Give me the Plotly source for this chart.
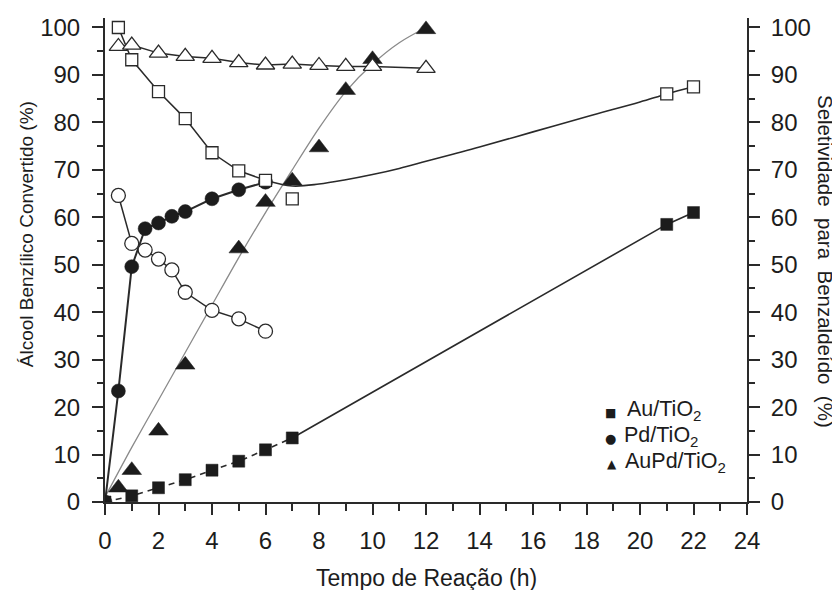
import plotly.graph_objects as go

# ---------------- data ----------------
# Conversion (left axis)
au_t = [0, 1, 2, 3, 4, 5, 6, 7]
au_conv = [0, 1.3, 3.0, 4.7, 6.7, 8.6, 11.0, 13.5]
au_t_long = [7, 21, 22]
au_conv_long = [13.5, 58.5, 61.0]

pd_t = [0, 0.5, 1, 1.5, 2, 2.5, 3, 4, 5, 6]
pd_conv = [0, 23.4, 49.6, 57.6, 58.8, 60.2, 61.2, 63.9, 65.8, 67.4]

aupd_t = [0.5, 1, 2, 3, 5, 6, 7, 8, 9, 10, 12]
aupd_conv = [3.0, 6.7, 15.0, 28.9, 53.4, 63.2, 67.7, 74.7, 86.8, 93.3, 99.6]
aupd_fit_t = [0, 1, 2, 3, 4, 5, 6, 7, 8, 9, 10, 11, 12]
aupd_fit = [1.0, 11.5, 21.5, 31.5, 41.5, 51.5, 61.0, 70.0, 78.8, 86.5, 92.3, 96.8, 100.0]

# Selectivity (right axis)
au_sel_t = [0.5, 1, 2, 3, 4, 5, 6, 7, 21, 22]
au_sel = [100.0, 93.2, 86.5, 80.8, 73.6, 69.8, 67.8, 63.9, 86.0, 87.5]
au_sel_line_t = [0.5, 1, 2, 3, 4, 5, 6]
au_sel_line = [100.0, 93.2, 86.5, 80.8, 73.6, 69.8, 67.8]
au_sel_fit_t = [6, 7, 8, 9, 10, 11, 12, 13, 14, 16, 18, 20, 21, 22]
au_sel_fit = [67.8, 66.6, 67.0, 67.9, 69.0, 70.3, 71.8, 73.3, 74.8, 78.0, 81.2, 84.3, 86.0, 87.5]

pd_sel_t = [0.5, 1, 1.5, 2, 2.5, 3, 4, 5, 6]
pd_sel = [64.6, 54.5, 53.1, 51.2, 48.9, 44.2, 40.4, 38.6, 36.0]

aupd_sel_t = [0.5, 1, 2, 3, 4, 5, 6, 7, 8, 9, 10, 12]
aupd_sel = [96.0, 96.3, 94.6, 93.9, 93.5, 92.6, 92.1, 92.3, 92.0, 91.8, 91.8, 91.4]

x_ticks = list(range(0, 25, 2))
y_ticks = list(range(0, 101, 10))

legend_names = ["Au/TiO<sub>2</sub>", "Pd/TiO<sub>2</sub>", "AuPd/TiO<sub>2</sub>"]
legend_symbols = ["\u25A0", "\u25CF", "\u25B2"]

# ---------------- figure ----------------
FONT = "Liberation Sans, Arial, Helvetica, sans-serif"
INK = "#1c1c1c"
LINE = "#2a2a2a"

fig = go.Figure()

# --- lines ---
fig.add_trace(go.Scatter(x=aupd_fit_t, y=aupd_fit, mode="lines",
                         line=dict(color="#8a8a8a", width=1.3, shape="spline", smoothing=0.8),
                         hoverinfo="skip"))
fig.add_trace(go.Scatter(x=au_sel_line_t, y=au_sel_line, mode="lines", yaxis="y2",
                         line=dict(color=LINE, width=1.5), hoverinfo="skip"))
fig.add_trace(go.Scatter(x=au_sel_fit_t, y=au_sel_fit, mode="lines", yaxis="y2",
                         line=dict(color=LINE, width=1.6, shape="spline", smoothing=1.0),
                         hoverinfo="skip"))
fig.add_trace(go.Scatter(x=pd_sel_t, y=pd_sel, mode="lines", yaxis="y2",
                         line=dict(color=LINE, width=1.5), hoverinfo="skip"))
fig.add_trace(go.Scatter(x=aupd_sel_t, y=aupd_sel, mode="lines", yaxis="y2",
                         line=dict(color=LINE, width=1.5), hoverinfo="skip"))
fig.add_trace(go.Scatter(x=pd_t, y=pd_conv, mode="lines",
                         line=dict(color=LINE, width=2), hoverinfo="skip"))
fig.add_trace(go.Scatter(x=au_t, y=au_conv, mode="lines",
                         line=dict(color=LINE, width=1.6, dash="6px,5px"), hoverinfo="skip"))
fig.add_trace(go.Scatter(x=au_t_long, y=au_conv_long, mode="lines",
                         line=dict(color=LINE, width=1.6), hoverinfo="skip"))

# --- open markers (selectivity) ---
open_mk = dict(color="white", line=dict(color=LINE, width=1.3))
fig.add_trace(go.Scatter(x=au_sel_t, y=au_sel, mode="markers", yaxis="y2",
                         marker=dict(symbol="square", size=12, **open_mk)))
fig.add_trace(go.Scatter(x=pd_sel_t, y=pd_sel, mode="markers", yaxis="y2",
                         marker=dict(symbol="circle", size=14, **open_mk)))
fig.add_trace(go.Scatter(x=aupd_sel_t, y=aupd_sel, mode="markers", yaxis="y2",
                         marker=dict(symbol="triangle-up", size=16, **open_mk)))

# --- filled markers (conversion) ---
fill_mk = dict(color=INK, line=dict(color=INK, width=0.5))
fig.add_trace(go.Scatter(x=au_t + au_t_long[1:], y=au_conv + au_conv_long[1:], mode="markers",
                         marker=dict(symbol="square", size=12, **fill_mk)))
fig.add_trace(go.Scatter(x=pd_t, y=pd_conv, mode="markers",
                         marker=dict(symbol="circle", size=14, **fill_mk)))
fig.add_trace(go.Scatter(x=aupd_t, y=aupd_conv, mode="markers",
                         marker=dict(symbol="triangle-up", size=17, **fill_mk)))

# ---------------- layout ----------------
# The page body has an 8 px margin, so the figure is drawn offset by 8 px.
OFF = 8
W, H = 840 - OFF, 590 - OFF
PLOT_L, PLOT_R, PLOT_T, PLOT_B = 105, 747, 14, 502   # target, in page pixels
L, T = PLOT_L - OFF, PLOT_T - OFF
R, B = W - (PLOT_R - OFF), H - (PLOT_B - OFF)
PW, PH = PLOT_R - PLOT_L, PLOT_B - PLOT_T


def px(xp):
    return (xp - PLOT_L) / PW


def py(yp):
    return (PLOT_B - yp) / PH


axis_common = dict(
    showline=True, linecolor=LINE, linewidth=2,
    ticks="outside", ticklen=11, tickwidth=2, tickcolor=LINE,
    showgrid=False, zeroline=False,
    tickfont=dict(family=FONT, size=24, color=INK),
)

fig.update_layout(
    width=W, height=H,
    margin=dict(l=L, r=R, t=T, b=B),
    paper_bgcolor="white", plot_bgcolor="white",
    showlegend=False,
    font=dict(family=FONT, color=INK),
    xaxis=dict(range=[0, 24], tickvals=x_ticks, ticklabelstandoff=5,
               minor=dict(ticks="outside", ticklen=7, tickwidth=2, tickcolor=LINE, dtick=1),
               **axis_common),
    yaxis=dict(range=[0, 102], tickvals=y_ticks, ticklabelstandoff=7,
               minor=dict(ticks="outside", ticklen=6, tickwidth=2, tickcolor=LINE, dtick=5),
               **axis_common),
    yaxis2=dict(range=[0, 102], tickvals=y_ticks, overlaying="y", side="right",
                ticklabelstandoff=6,
                minor=dict(ticks="outside", ticklen=6, tickwidth=2, tickcolor=LINE, dtick=5),
                **axis_common),
)

annotations = [
    dict(text="Tempo de Reação (h)", x=px(427), y=py(579), xref="paper", yref="paper",
         showarrow=False, xanchor="center", yanchor="middle",
         font=dict(family=FONT, size=23, color=INK)),
    dict(text="Álcool Benzílico Convertido (%)", x=px(26), y=py(232), xref="paper", yref="paper",
         showarrow=False, textangle=-90, xanchor="center", yanchor="middle",
         font=dict(family=FONT, size=19, color=INK)),
    dict(text="Seletividade  para  Benzaldeído  (%)", x=px(825), y=py(260), xref="paper",
         yref="paper", showarrow=False, textangle=90, xanchor="center", yanchor="middle",
         font=dict(family=FONT, size=20.5, color=INK)),
]

leg_sym_pos = [(610, 412, 12), (610, 438, 13), (612, 464, 12)]
leg_txt_pos = [(625, 410), (622, 436), (623, 462)]
for name, sym, (sx, sy, ss), (tx, ty) in zip(legend_names, legend_symbols, leg_sym_pos, leg_txt_pos):
    annotations.append(dict(text=sym, x=px(sx), y=py(sy), xref="paper", yref="paper",
                            showarrow=False, xanchor="center", yanchor="middle",
                            font=dict(family="DejaVu Sans", size=ss, color=INK)))
    annotations.append(dict(text=name, x=px(tx), y=py(ty), xref="paper", yref="paper",
                            showarrow=False, xanchor="left", yanchor="middle",
                            font=dict(family=FONT, size=21.5, color=INK)))

fig.update_layout(annotations=annotations)

fig.write_html("out.html")
